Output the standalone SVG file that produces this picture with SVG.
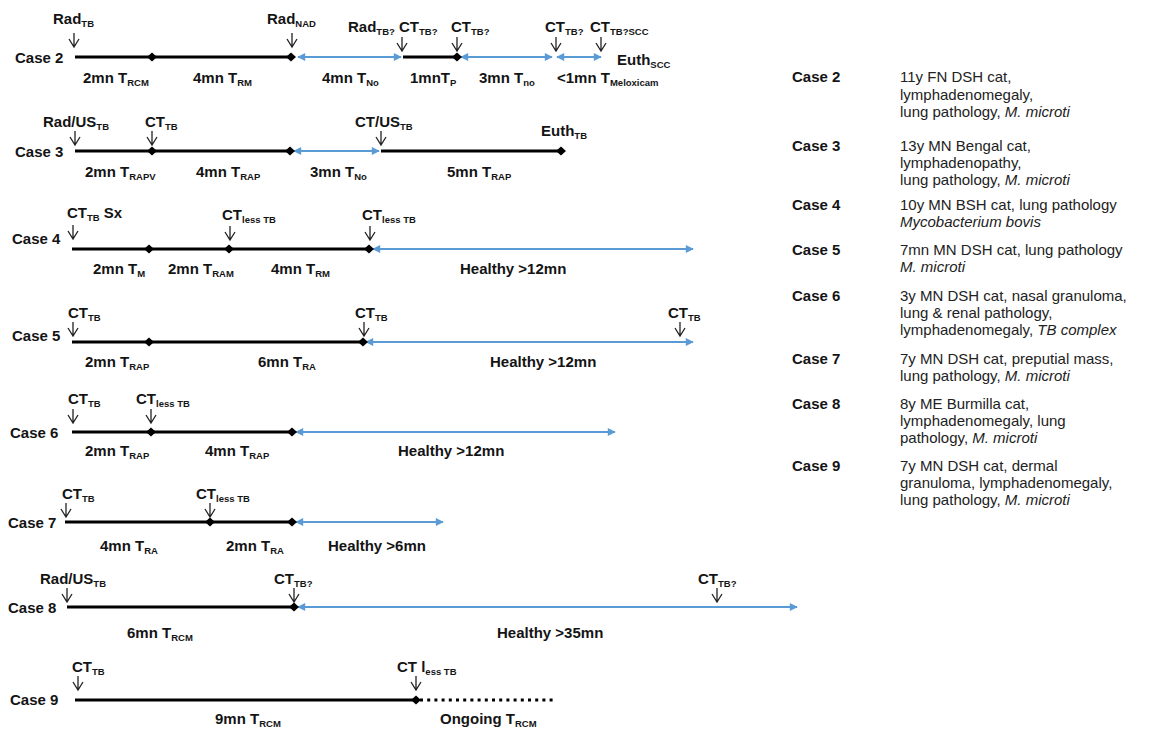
<svg xmlns="http://www.w3.org/2000/svg" xmlns:xlink="http://www.w3.org/1999/xlink" width="1152" height="730" viewBox="0 0 1152 730">
<style>
text{font-family:"Liberation Sans",Arial,sans-serif;fill:#141414}
.b{font-weight:bold;font-size:15px}
.s{font-size:9.5px;font-weight:bold}
.d{font-size:15px;fill:#222}
.i{font-style:italic}
.tl{stroke:#000;stroke-width:3;fill:none}
.dot{stroke:#000;stroke-width:3;fill:none;stroke-dasharray:3 4.2}
.bl{stroke:#5B9BD5;stroke-width:2;fill:none;marker-start:url(#ah);marker-end:url(#ah)}
.ev{stroke:#222;stroke-width:1.3;fill:none}
.dm{fill:#000}
</style>
<defs>
<marker id="ah" viewBox="0 0 10 10" refX="9" refY="5" markerWidth="9" markerHeight="8" markerUnits="userSpaceOnUse" orient="auto-start-reverse"><path d="M0,0 L10,5 L0,10 Z" fill="#5B9BD5"/></marker>
<path id="dmd" d="M-5,0 L0,-4.5 L5,0 L0,4.5 Z"/>
<path id="ea" d="M0,0 V14 M-5,6 L0,14 L5,6"/>
</defs>
<rect width="1152" height="730" fill="#fff"/>

<g id="connectors">
<line class="bl" x1="298" y1="57" x2="401" y2="57"/>
<line class="bl" x1="461" y1="57" x2="552" y2="57"/>
<line class="bl" x1="557" y1="57" x2="601" y2="57"/>
<line class="bl" x1="294" y1="151" x2="379" y2="151"/>
<line class="bl" x1="373" y1="249" x2="693" y2="249"/>
<line class="bl" x1="366" y1="342" x2="693" y2="342"/>
<line class="bl" x1="296" y1="432" x2="615" y2="432"/>
<line class="bl" x1="296" y1="522" x2="443" y2="522"/>
<line class="bl" x1="298" y1="607" x2="797" y2="607"/>
</g>

<g id="case2">
<text class="b" x="15" y="63">Case 2</text>
<line class="tl" x1="75" y1="57" x2="291" y2="57"/>
<line class="tl" x1="403" y1="57" x2="457" y2="57"/>
<use href="#dmd" class="dm" x="152" y="57"/><use href="#dmd" class="dm" x="291" y="57"/><use href="#dmd" class="dm" x="457" y="57"/>
<text class="b" x="53" y="24">Rad<tspan class="s" dy="3">TB</tspan></text>
<use href="#ea" class="ev" x="74" y="33"/>
<text class="b" x="267" y="24">Rad<tspan class="s" dy="3">NAD</tspan></text>
<use href="#ea" class="ev" x="292" y="33"/>
<text class="b" x="348" y="32">Rad<tspan class="s" dy="3">TB?</tspan><tspan dy="-3"> CT</tspan><tspan class="s" dy="3">TB?</tspan></text>
<use href="#ea" class="ev" x="402" y="37"/>
<text class="b" x="451" y="32">CT<tspan class="s" dy="3">TB?</tspan></text>
<use href="#ea" class="ev" x="457" y="37"/>
<text class="b" x="545" y="32">CT<tspan class="s" dy="3">TB?</tspan></text>
<use href="#ea" class="ev" x="556" y="37"/>
<text class="b" x="590" y="32">CT<tspan class="s" dy="3">TB?SCC</tspan></text>
<use href="#ea" class="ev" x="601" y="37"/>
<text class="b" x="617" y="65">Euth<tspan class="s" dy="3">SCC</tspan></text>
<text class="b" x="83" y="83">2mn T<tspan class="s" dy="3">RCM</tspan></text>
<text class="b" x="193" y="83">4mn T<tspan class="s" dy="3">RM</tspan></text>
<text class="b" x="322" y="83">4mn T<tspan class="s" dy="3">No</tspan></text>
<text class="b" x="410" y="83">1mnT<tspan class="s" dy="3">P</tspan></text>
<text class="b" x="479" y="83">3mn T<tspan class="s" dy="3">no</tspan></text>
<text class="b" x="557" y="83">&lt;1mn T<tspan class="s" dy="3">Meloxicam</tspan></text>
</g>

<g id="case3">
<text class="b" x="15" y="157">Case 3</text>
<line class="tl" x1="75" y1="151" x2="290" y2="151"/>
<line class="tl" x1="381" y1="151" x2="561" y2="151"/>
<use href="#dmd" class="dm" x="152" y="151"/><use href="#dmd" class="dm" x="290" y="151"/><use href="#dmd" class="dm" x="561" y="151"/>
<text class="b" x="43" y="127">Rad/US<tspan class="s" dy="3">TB</tspan></text>
<use href="#ea" class="ev" x="75" y="131"/>
<text class="b" x="145" y="127">CT<tspan class="s" dy="3">TB</tspan></text>
<use href="#ea" class="ev" x="152" y="131"/>
<text class="b" x="355" y="127">CT/US<tspan class="s" dy="3">TB</tspan></text>
<use href="#ea" class="ev" x="381" y="131"/>
<text class="b" x="541" y="136">Euth<tspan class="s" dy="3">TB</tspan></text>
<text class="b" x="85" y="177">2mn T<tspan class="s" dy="3">RAPV</tspan></text>
<text class="b" x="196" y="177">4mn T<tspan class="s" dy="3">RAP</tspan></text>
<text class="b" x="310" y="177">3mn T<tspan class="s" dy="3">No</tspan></text>
<text class="b" x="447" y="177">5mn T<tspan class="s" dy="3">RAP</tspan></text>
</g>

<g id="case4">
<text class="b" x="12" y="244">Case 4</text>
<line class="tl" x1="72" y1="249" x2="369" y2="249"/>
<use href="#dmd" class="dm" x="149" y="249"/><use href="#dmd" class="dm" x="229" y="249"/><use href="#dmd" class="dm" x="369" y="249"/>
<text class="b" x="67" y="218">CT<tspan class="s" dy="3">TB</tspan><tspan dy="-3">  Sx</tspan></text>
<use href="#ea" class="ev" x="73" y="225"/>
<text class="b" x="222" y="220">CT<tspan class="s" dy="3">less  TB</tspan></text>
<use href="#ea" class="ev" x="230" y="226"/>
<text class="b" x="362" y="220">CT<tspan class="s" dy="3">less  TB</tspan></text>
<use href="#ea" class="ev" x="370" y="226"/>
<text class="b" x="93" y="274">2mn T<tspan class="s" dy="3">M</tspan></text>
<text class="b" x="168" y="274">2mn T<tspan class="s" dy="3">RAM</tspan></text>
<text class="b" x="271" y="274">4mn T<tspan class="s" dy="3">RM</tspan></text>
<text class="b" x="460" y="274">Healthy &gt;12mn</text>
</g>

<g id="case5">
<text class="b" x="12" y="341">Case 5</text>
<line class="tl" x1="72" y1="342" x2="363" y2="342"/>
<use href="#dmd" class="dm" x="149" y="342"/><use href="#dmd" class="dm" x="363" y="342"/>
<text class="b" x="68" y="318">CT<tspan class="s" dy="3">TB</tspan></text>
<use href="#ea" class="ev" x="73" y="322"/>
<text class="b" x="355" y="318">CT<tspan class="s" dy="3">TB</tspan></text>
<use href="#ea" class="ev" x="364" y="322"/>
<text class="b" x="668" y="318">CT<tspan class="s" dy="3">TB</tspan></text>
<use href="#ea" class="ev" x="680" y="322"/>
<text class="b" x="85" y="367">2mn T<tspan class="s" dy="3">RAP</tspan></text>
<text class="b" x="258" y="367">6mn T<tspan class="s" dy="3">RA</tspan></text>
<text class="b" x="490" y="367">Healthy &gt;12mn</text>
</g>

<g id="case6">
<text class="b" x="10" y="438">Case 6</text>
<line class="tl" x1="72" y1="432" x2="292" y2="432"/>
<use href="#dmd" class="dm" x="151" y="432"/><use href="#dmd" class="dm" x="292" y="432"/>
<text class="b" x="68" y="404">CT<tspan class="s" dy="3">TB</tspan></text>
<use href="#ea" class="ev" x="73" y="409"/>
<text class="b" x="136" y="404">CT<tspan class="s" dy="3">less  TB</tspan></text>
<use href="#ea" class="ev" x="151" y="409"/>
<text class="b" x="85" y="456">2mn T<tspan class="s" dy="3">RAP</tspan></text>
<text class="b" x="205" y="456">4mn T<tspan class="s" dy="3">RAP</tspan></text>
<text class="b" x="398" y="456">Healthy &gt;12mn</text>
</g>

<g id="case7">
<text class="b" x="8" y="528">Case 7</text>
<line class="tl" x1="65" y1="522" x2="292" y2="522"/>
<use href="#dmd" class="dm" x="210" y="522"/><use href="#dmd" class="dm" x="292" y="522"/>
<text class="b" x="62" y="499">CT<tspan class="s" dy="3">TB</tspan></text>
<use href="#ea" class="ev" x="66" y="503"/>
<text class="b" x="196" y="499">CT<tspan class="s" dy="3">less  TB</tspan></text>
<use href="#ea" class="ev" x="210" y="503"/>
<text class="b" x="100" y="551">4mn T<tspan class="s" dy="3">RA</tspan></text>
<text class="b" x="226" y="551">2mn T<tspan class="s" dy="3">RA</tspan></text>
<text class="b" x="328" y="551">Healthy &gt;6mn</text>
</g>

<g id="case8">
<text class="b" x="8" y="613">Case 8</text>
<line class="tl" x1="67" y1="607" x2="294" y2="607"/>
<use href="#dmd" class="dm" x="294" y="607"/>
<text class="b" x="40" y="584">Rad/US<tspan class="s" dy="3">TB</tspan></text>
<use href="#ea" class="ev" x="67" y="588"/>
<text class="b" x="274" y="584">CT<tspan class="s" dy="3">TB?</tspan></text>
<use href="#ea" class="ev" x="294" y="588"/>
<text class="b" x="698" y="584">CT<tspan class="s" dy="3">TB?</tspan></text>
<use href="#ea" class="ev" x="717" y="588"/>
<text class="b" x="127" y="638">6mn T<tspan class="s" dy="3">RCM</tspan></text>
<text class="b" x="497" y="638">Healthy &gt;35mn</text>
</g>

<g id="case9">
<text class="b" x="10" y="705">Case 9</text>
<line class="tl" x1="75" y1="700" x2="416" y2="700"/>
<line class="dot" x1="420" y1="700" x2="556" y2="700"/>
<use href="#dmd" class="dm" x="416" y="700"/>
<text class="b" x="72" y="672">CT<tspan class="s" dy="3">TB</tspan></text>
<use href="#ea" class="ev" x="78" y="676"/>
<text class="b" x="397" y="672">CT l<tspan class="s" dy="3">ess  TB</tspan></text>
<use href="#ea" class="ev" x="416" y="676"/>
<text class="b" x="215" y="724">9mn T<tspan class="s" dy="3">RCM</tspan></text>
<text class="b" x="440" y="724">Ongoing T<tspan class="s" dy="3">RCM</tspan></text>
</g>

<g id="legend">
<text class="b" x="792" y="82">Case 2</text>
<text class="d" x="900" y="82">11y FN DSH cat,</text>
<text class="d" x="900" y="100">lymphadenomegaly,</text>
<text class="d" x="900" y="117">lung pathology, <tspan class="i">M. microti</tspan></text>
<text class="b" x="792" y="151">Case 3</text>
<text class="d" x="900" y="151">13y MN Bengal cat,</text>
<text class="d" x="900" y="168">lymphadenopathy,</text>
<text class="d" x="900" y="185">lung pathology, <tspan class="i">M. microti</tspan></text>
<text class="b" x="792" y="210">Case 4</text>
<text class="d" x="900" y="210">10y MN BSH cat, lung pathology</text>
<text class="d i" x="900" y="227">Mycobacterium bovis</text>
<text class="b" x="792" y="255">Case 5</text>
<text class="d" x="900" y="255">7mn MN DSH cat, lung pathology</text>
<text class="d i" x="900" y="272">M. microti</text>
<text class="b" x="792" y="301">Case 6</text>
<text class="d" x="900" y="301">3y MN DSH cat, nasal granuloma,</text>
<text class="d" x="900" y="318">lung &amp; renal pathology,</text>
<text class="d" x="900" y="335">lymphadenomegaly, <tspan class="i">TB complex</tspan></text>
<text class="b" x="792" y="364">Case 7</text>
<text class="d" x="900" y="364">7y MN DSH cat, preputial mass,</text>
<text class="d" x="900" y="381">lung pathology, <tspan class="i">M. microti</tspan></text>
<text class="b" x="792" y="409">Case 8</text>
<text class="d" x="900" y="409">8y ME Burmilla cat,</text>
<text class="d" x="900" y="426">lymphadenomegaly, lung</text>
<text class="d" x="900" y="443">pathology, <tspan class="i">M. microti</tspan></text>
<text class="b" x="792" y="471">Case 9</text>
<text class="d" x="900" y="471">7y MN DSH cat, dermal</text>
<text class="d" x="900" y="488">granuloma, lymphadenomegaly,</text>
<text class="d" x="900" y="505">lung pathology, <tspan class="i">M. microti</tspan></text>
</g>
</svg>
